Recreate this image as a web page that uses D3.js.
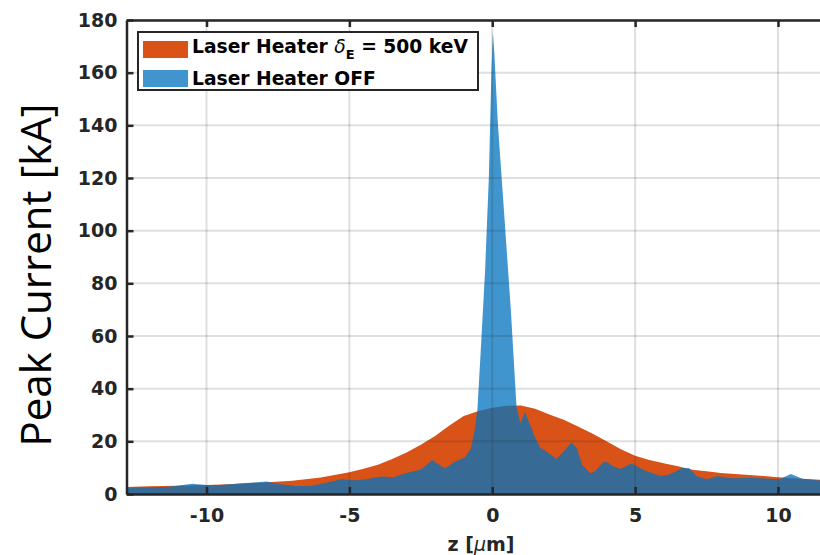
<!DOCTYPE html>
<html>
<head>
<meta charset="utf-8">
<script src="https://cdn.jsdelivr.net/npm/d3@7"></script>
<style>
  html, body { margin: 0; padding: 0; background: #fff; overflow: hidden; }
  svg { display: block; }
</style>
</head>
<body>
<div id="chart"></div>
<script>
// Laser heater ON (delta_E = 500 keV)
const zOn = [-12.8, -12, -11, -10, -9, -8, -7, -6, -5, -4.5, -4, -3.5, -3, -2.5, -2, -1.5, -1, -0.5,
  0, 0.5, 1, 1.5, 2, 2.5, 3, 3.5, 4, 4.5, 5, 5.5, 6, 6.5, 7, 7.5, 8, 8.5, 9, 9.5, 10, 10.5, 11, 11.5, 12, 12.8];
const currentOn = [2.7, 2.9, 3.1, 3.4, 3.8, 4.4, 5.0, 6.3, 8.3, 9.6, 11.1, 13.3, 15.8, 18.7, 22.0, 26.0, 29.6, 31.4,
  32.8, 33.5, 33.6, 32.4, 30.2, 28.2, 25.6, 23.0, 20.0, 17.0, 14.5, 12.9, 11.7, 10.5, 9.2, 8.6, 8.0, 7.6, 7.2, 6.8, 6.4, 6.0, 5.7, 5.4, 5.0, 4.6];

// Laser heater OFF
const zOff = [-12.8, -12, -11.3, -10.5, -10, -9.5, -9, -8.35, -7.9, -7.4, -6.9, -6.4, -5.8, -5.3, -4.85, -4.4,
  -3.9, -3.45, -3.1, -2.5, -2.1, -1.65, -1.3, -0.95, -0.75, -0.62, -0.52, -0.4, -0.25, -0.12, -0.03, 0.02,
  0.07, 0.2, 0.42, 0.65, 0.85, 0.98, 1.15, 1.3, 1.5, 1.67, 1.9, 2.25, 2.6, 2.77, 2.95, 3.15, 3.43, 3.6,
  3.9, 4.07, 4.2, 4.5, 4.85, 5.05, 5.35, 5.9, 6.2, 6.65, 6.9, 7.15, 7.5, 7.9, 8.2, 8.5, 9.05, 9.7, 10.05,
  10.45, 10.85, 11.5, 12, 12.8];
const currentOff = [2.4, 2.6, 2.8, 3.9, 3.4, 3.4, 3.9, 4.4, 4.7, 3.7, 3.0, 3.0, 4.3, 5.6, 5.2, 5.6,
  6.6, 6.4, 7.7, 9.3, 12.8, 9.7, 12.3, 14.0, 17.2, 24, 32, 55, 85, 120, 160, 175.5,
  168, 140, 106, 70, 33, 27, 31, 27, 21.5, 17.8, 16, 13.3, 17.4, 19.6, 17.6, 11, 7.9, 8.6,
  12.2, 11.9, 10.6, 9.5, 11.6, 10.6, 8.8, 6.8, 7.4, 9.9, 9.8, 6.8, 5.6, 6.8, 6.2, 6.0, 6.2, 5.8, 5.6,
  7.6, 5.8, 5.1, 5.0, 4.8];

const xTicks = [-10, -5, 0, 5, 10];
const yTicks = [0, 20, 40, 60, 80, 100, 120, 140, 160, 180];
const legendLabels = ["Laser Heater OFF"];

const W = 820, H = 555;
const margin = { top: 20, left: 126.5, bottom: 61, right: -38 };
const width = W - margin.left - margin.right;
const height = H - margin.top - margin.bottom;

const colOn = "#D95319", colOff = "#0072BD", axisCol = "#262626";
const tickFont = "'DejaVu Sans', sans-serif";

const svg = d3.select("#chart").append("svg")
  .attr("width", W).attr("height", H);

const g = svg.append("g").attr("transform", `translate(${margin.left},${margin.top})`);

const x = d3.scaleLinear().domain([-12.8, 12.8]).range([0, width]);
const y = d3.scaleLinear().domain([0, 180]).range([height, 0]);

svg.append("defs").append("clipPath").attr("id", "plotclip")
  .append("rect").attr("x", 0).attr("y", 0).attr("width", width).attr("height", height);

const plot = g.append("g").attr("clip-path", "url(#plotclip)");

const area = d3.area()
  .x((d) => x(d[0]))
  .y0(y(0))
  .y1((d) => y(d[1]));

plot.append("path")
  .datum(zOn.map((z, i) => [z, currentOn[i]]))
  .attr("fill", colOn)
  .attr("d", area);

plot.append("path")
  .datum(zOff.map((z, i) => [z, currentOff[i]]))
  .attr("fill", colOff)
  .attr("fill-opacity", 0.75)
  .attr("d", area);

// grid on top of the areas (matlab style)
const grid = g.append("g").attr("stroke", axisCol).attr("stroke-opacity", 0.15).attr("stroke-width", 2);
grid.selectAll(".gx").data(xTicks).join("line")
  .attr("x1", (d) => x(d)).attr("x2", (d) => x(d))
  .attr("y1", 0).attr("y2", height);
grid.selectAll(".gy").data(yTicks).join("line")
  .attr("x1", 0).attr("x2", width)
  .attr("y1", (d) => y(d)).attr("y2", (d) => y(d));

function styleAxis(sel) {
  sel.select(".domain").attr("stroke", axisCol).attr("stroke-width", 2.5);
  sel.selectAll(".tick line").attr("stroke", axisCol).attr("stroke-width", 2.5);
  sel.selectAll(".tick text")
    .attr("fill", axisCol)
    .attr("font-family", tickFont)
    .attr("font-weight", "bold")
    .attr("font-size", "19px");
}

const xAxisG = g.append("g")
  .attr("transform", `translate(0,${height})`)
  .call(d3.axisBottom(x).tickValues(xTicks).tickSizeInner(-7).tickSizeOuter(0).tickPadding(15)
    .tickFormat(d3.format("d")))
  .call(styleAxis);
xAxisG.selectAll(".tick text").text((d) => (d < 0 ? "-" + Math.abs(d) : d));

g.append("g")
  .call(d3.axisTop(x).tickValues(xTicks).tickSizeInner(-7).tickSizeOuter(0).tickFormat(""))
  .call(styleAxis);

g.append("g")
  .call(d3.axisLeft(y).tickValues(yTicks).tickSizeInner(-7).tickSizeOuter(0).tickPadding(9))
  .call(styleAxis);

// x label
const xl = svg.append("text")
  .attr("x", 481).attr("y", 551)
  .attr("text-anchor", "middle")
  .attr("font-family", tickFont)
  .attr("font-weight", "bold")
  .attr("font-size", "19px")
  .attr("fill", axisCol);
xl.append("tspan").text("z [");
xl.append("tspan").attr("font-style", "italic").attr("font-weight", "normal").text("\u03bc");
xl.append("tspan").text("m]");

// y label
svg.append("text")
  .attr("transform", `translate(51,${275}) rotate(-90)`)
  .attr("text-anchor", "middle")
  .attr("font-family", "'Open Sans', sans-serif")
  .attr("font-size", "42px")
  .attr("fill", "#000")
  .text("Peak Current [kA]");

// legend
const leg = svg.append("g").attr("transform", "translate(138,32)");
leg.append("rect")
  .attr("width", 340).attr("height", 58)
  .attr("fill", "#fff")
  .attr("stroke", axisCol).attr("stroke-width", 2);

leg.append("rect").attr("x", 5).attr("y", 9).attr("width", 45).attr("height", 17)
  .attr("fill", colOn);
leg.append("rect").attr("x", 5).attr("y", 38).attr("width", 45).attr("height", 17)
  .attr("fill", colOff).attr("fill-opacity", 0.75);

const legFont = "18.7px";
const t1 = leg.append("text")
  .attr("x", 54).attr("y", 21)
  .attr("font-family", tickFont).attr("font-weight", "bold").attr("font-size", legFont)
  .attr("fill", "#000");
t1.append("tspan").text("Laser Heater ");
t1.append("tspan").attr("font-style", "italic").attr("font-weight", "normal").text("\u03b4");
t1.append("tspan").attr("font-size", "13px").attr("dy", 6).text("E");
t1.append("tspan").attr("dy", -6).text(" = 500 keV");

leg.append("text")
  .attr("x", 54).attr("y", 53)
  .attr("font-family", tickFont).attr("font-weight", "bold").attr("font-size", legFont)
  .attr("fill", "#000")
  .text(legendLabels[0]);
</script>
</body>
</html>
